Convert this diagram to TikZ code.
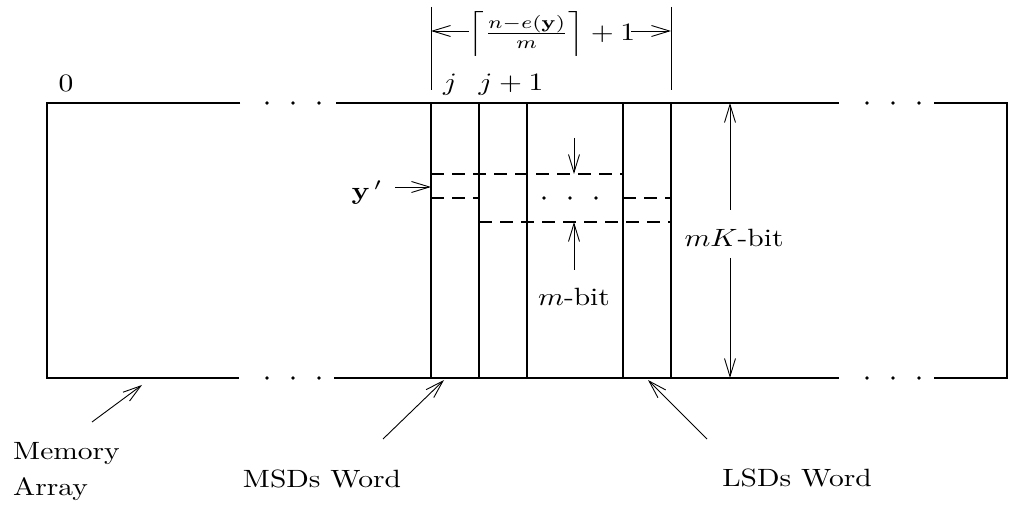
\documentclass[tikz,border=0pt]{standalone}
\usepackage{amsmath,amssymb}
\usepackage{tikz}
\usetikzlibrary{arrows.meta}
\newcommand{\wtxt}[1]{\scalebox{2.95}[2.5]{#1}}

\begin{document}
\begin{tikzpicture}[x=1pt,y=-1pt,
  >={Straight Barb[length=18pt,width=11pt]},
  frame/.style={line width=1.8pt},
  pointer/.style={->,line width=0.9pt},
  lbl/.style={font=\normalsize,inner sep=0pt,anchor=base}]
  \useasboundingbox (0,0) rectangle (1013,518);
  % memory array outline, broken by dots
  \draw[frame] (240,103) -- (47,103) -- (47,378) -- (239,378);
  \draw[frame] (336,103) -- (839,103);
  \draw[frame] (334,378) -- (839,378);
  \draw[frame] (934,103) -- (1007,103) -- (1007,378) -- (934,378);
  \foreach \x in {267,293,319,867,893,919} {
    \fill (\x,103) circle (1.8pt);
    \fill (\x,378) circle (1.8pt);
  }
  % word columns j ... j+K
  \foreach \x in {431,479,527,623,671}
    \draw[frame] (\x,103) -- (\x,378);
  % the m-bit slice y'
  \draw[frame,dash pattern=on 13pt off 8pt] (431,174) -- (623,174);
  \draw[line width=2.8pt,dash pattern=on 13pt off 8pt] (431,198) -- (479,198);
  \draw[line width=2.8pt,dash pattern=on 13pt off 8pt] (623,198) -- (671,198);
  \draw[frame,dash pattern=on 13pt off 8pt] (479,222) -- (671,222);
  \foreach \x in {544,570,596}
    \fill (\x,198) circle (1.8pt);
  % labels
  \node[lbl] (zero) at (66,92) {\wtxt{0}};
  \node[lbl] (jcol) at (450,91) {\wtxt{$j$}};
  \node[lbl] (jnext) at (511,91) {\wtxt{$j+1$}};
  \node[lbl,anchor=center] (span) at (552,34)
    {\wtxt{$\Big\lceil\frac{n-e(\mathbf{y})}{m}\Big\rceil+1$}};
  \node[lbl] (yslice) at (367,200) {\wtxt{$\mathbf{y}^{\,\prime}$}};
  \node[lbl] (mbit) at (574,306) {\wtxt{$m$-bit}};
  \node[lbl] (mkbit) at (734,247) {\wtxt{$mK$-bit}};
  \node[lbl,anchor=base west] (mem) at (13,460) {\wtxt{Memory}};
  \node[lbl,anchor=base west] (arr) at (13,496) {\wtxt{Array}};
  \node[lbl] (msd) at (322,488) {\wtxt{MSDs Word}};
  \node[lbl] (lsd) at (797,487) {\wtxt{LSDs Word}};
  % arrow end points
  \coordinate (spanl) at (431,31);
  \coordinate (spanr) at (671,31);
  \coordinate (ytail) at (395,187);
  \coordinate (ytip) at (431,187);
  \coordinate (mtail) at (574,138);
  \coordinate (mtop) at (574,174);
  \coordinate (mlow) at (574,270);
  \coordinate (mbot) at (574,222);
  \coordinate (ktop) at (730,210);
  \coordinate (ktopend) at (730,103);
  \coordinate (kbot) at (730,258);
  \coordinate (kbotend) at (730,378);
  \coordinate (memtail) at (92,422);
  \coordinate (memtip) at (142,385);
  \coordinate (msdtail) at (383,439);
  \coordinate (msdtip) at (444,380);
  \coordinate (lsdtail) at (707,439);
  \coordinate (lsdtip) at (648,380);
  % dimension lines
  \draw[line width=0.9pt] (431,7) -- (431,90);
  \draw[line width=0.9pt] (671,7) -- (671,90);
  \draw[pointer] (span.west |- spanl) -- (spanl);
  \draw[pointer] ([xshift=-4pt]span.east |- spanr) -- (spanr);
  \draw[pointer] (ytail) -- (ytip);
  \draw[pointer] (mtail) -- (mtop);
  \draw[pointer] (mlow) -- (mbot);
  \draw[pointer] (ktop) -- (ktopend);
  \draw[pointer] (kbot) -- (kbotend);
  \draw[pointer] (memtail) -- (memtip);
  \draw[pointer] (msdtail) -- (msdtip);
  \draw[pointer] (lsdtail) -- (lsdtip);
\end{tikzpicture}
\end{document}
